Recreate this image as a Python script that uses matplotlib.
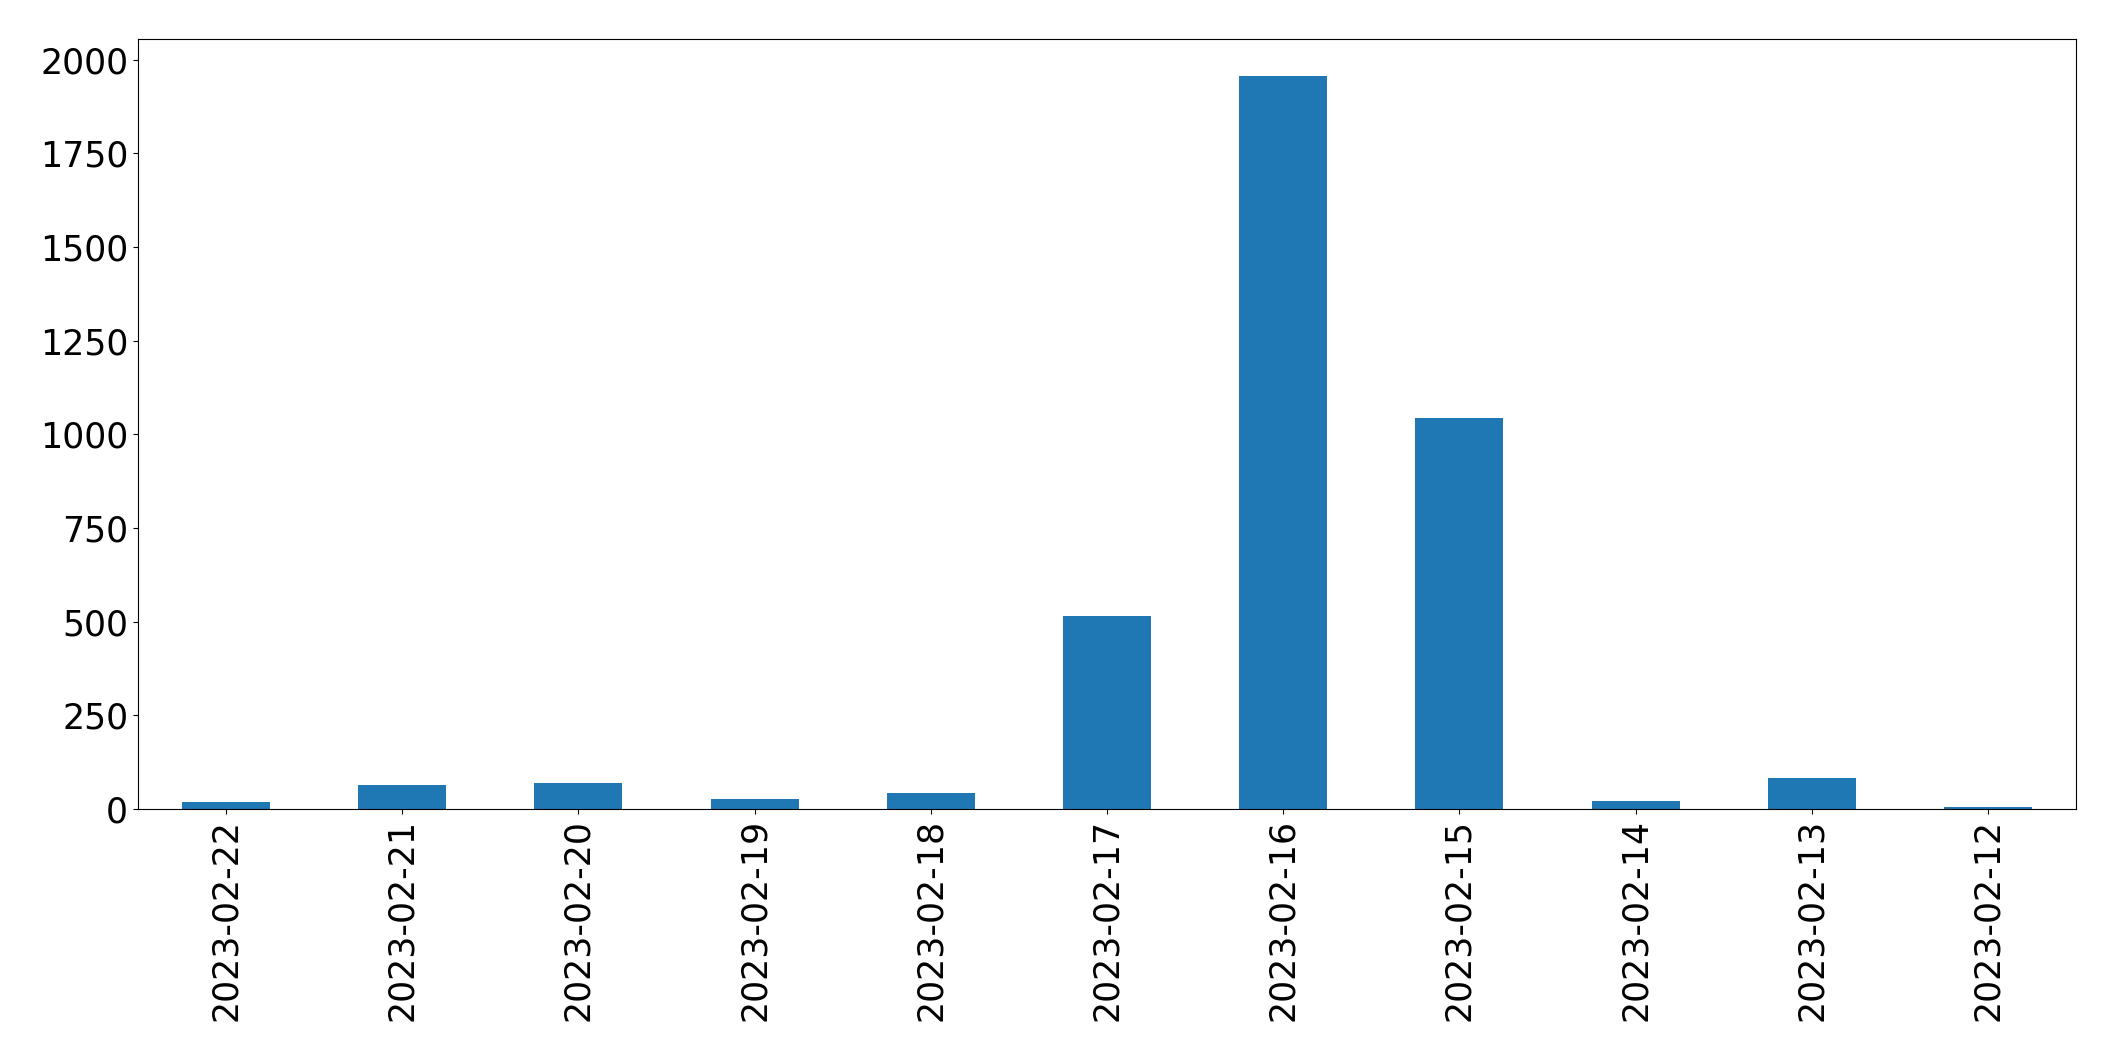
import matplotlib
matplotlib.use("Agg")
import matplotlib.pyplot as plt

# dates (descending, as in the chart) and counts
dates = ["2023-02-22", "2023-02-21", "2023-02-20", "2023-02-19", "2023-02-18",
         "2023-02-17", "2023-02-16", "2023-02-15", "2023-02-14", "2023-02-13",
         "2023-02-12"]
counts = [20, 65, 70, 28, 44, 515, 1957, 1043, 22, 84, 6]

fig = plt.figure(figsize=(21.15, 10.61), dpi=100)
ax = fig.add_axes([0.0652, 0.2375, 0.9816 - 0.0652, 0.9632 - 0.2375])

x = range(len(dates))
ax.bar(x, counts, width=0.5, color="#1f77b4")
ax.set_xlim(-0.5, len(dates) - 0.5)
ax.set_xticks(list(x))
ax.set_xticklabels(dates, rotation=90)
ax.tick_params(axis="both", labelsize=25)

fig.savefig("out.png", dpi=100)
